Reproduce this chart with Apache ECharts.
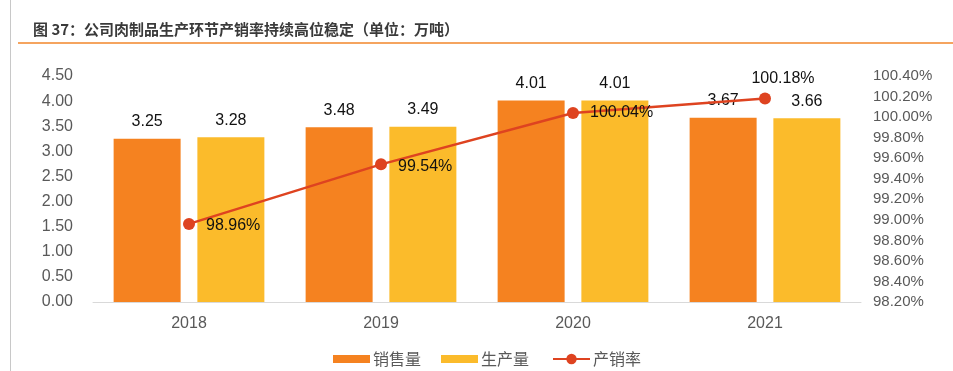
<!DOCTYPE html>
<html>
<head>
<meta charset="utf-8">
<script src="https://cdn.jsdelivr.net/npm/echarts@6/dist/echarts.min.js"></script>
<style>html,body{margin:0;padding:0;background:#fff;}#c{width:953px;height:371px;}</style>
</head>
<body>
<div id="c"></div>
<script>
var categories = ['2018', '2019', '2020', '2021'];
var salesVolume = [3.25, 3.48, 4.01, 3.67];
var productionVolume = [3.28, 3.49, 4.01, 3.66];
var salesRate = [98.96, 99.54, 100.04, 100.18];
var leftTicks = {min: 0, max: 4.5, interval: 0.5};
var rightTicks = {min: 98.2, max: 100.4, interval: 0.2};
var titleText = '图 37：公司肉制品生产环节产销率持续高位稳定（单位：万吨）';
var seriesNames = ['销售量', '生产量', '产销率'];

var chart = echarts.init(document.getElementById('c'), null, {renderer: 'canvas'});
var font = 'Liberation Sans, Arial, "Noto Sans CJK SC", sans-serif';
var cjk = '"Noto Sans CJK SC", sans-serif';
var rateLabels = [
  {position: 'right', distance: 11, offset: [0, 2]},
  {position: 'right', distance: 11, offset: [0, 2]},
  {position: 'right', distance: 11, offset: [0, 0]},
  {position: 'top', distance: 6, offset: [18, 0]}
];
var legendText = {fontSize: 16, color: '#595959', fontFamily: cjk, padding: [0, 0, 0, -2]};
chart.setOption({
  animation: false,
  textStyle: {fontFamily: font},
  title: {
    text: titleText,
    left: 28, top: 17,
    textStyle: {fontSize: 15, fontWeight: 'bold', color: '#3a3a3a', fontFamily: cjk}
  },
  graphic: [
    {type: 'line', shape: {x1: 10.5, y1: 0, x2: 10.5, y2: 371}, style: {stroke: '#c8c8c8', lineWidth: 1}},
    {type: 'line', shape: {x1: 18, y1: 43, x2: 953, y2: 43}, style: {stroke: '#F2862A', lineWidth: 1.5}}
  ],
  grid: {left: 93, right: 92, top: 76, bottom: 69, containLabel: false},
  legend: [
    {
      top: 351, left: 333, padding: 0,
      itemWidth: 37, itemHeight: 8, itemGap: 20,
      textStyle: legendText,
      data: [
        {name: seriesNames[0], icon: 'rect'},
        {name: seriesNames[1], icon: 'rect'}
      ]
    },
    {
      top: 351, left: 552, padding: 0,
      itemWidth: 37, itemHeight: 13,
      textStyle: legendText,
      data: [{name: seriesNames[2]}]
    }
  ],
  xAxis: {
    type: 'category', data: categories,
    axisLine: {lineStyle: {color: '#D9D9D9', width: 1}},
    axisTick: {show: false},
    axisLabel: {fontSize: 16, color: '#595959', margin: 14}
  },
  yAxis: [
    {
      type: 'value', min: leftTicks.min, max: leftTicks.max, interval: leftTicks.interval,
      splitLine: {show: false}, axisLine: {show: false}, axisTick: {show: false},
      axisLabel: {fontSize: 16, color: '#595959', margin: 20, formatter: function (v) { return v.toFixed(2); }}
    },
    {
      type: 'value', min: rightTicks.min, max: rightTicks.max, interval: rightTicks.interval,
      splitLine: {show: false}, axisLine: {show: false}, axisTick: {show: false},
      axisLabel: {fontSize: 15, color: '#595959', margin: 12, formatter: function (v) { return v.toFixed(2) + '%'; }}
    }
  ],
  series: [
    {
      name: seriesNames[0], type: 'bar', data: salesVolume, barWidth: 67, barGap: '25%',
      itemStyle: {color: '#F58220'},
      label: {show: true, position: 'top', distance: 9, fontSize: 16, color: '#111', formatter: function (p) { return p.value.toFixed(2); }}
    },
    {
      name: seriesNames[1], type: 'bar', data: productionVolume, barWidth: 67,
      itemStyle: {color: '#FBBB2B'},
      label: {show: true, position: 'top', distance: 9, fontSize: 16, color: '#111', formatter: function (p) { return p.value.toFixed(2); }}
    },
    {
      name: seriesNames[2], type: 'line', yAxisIndex: 1, z: 5,
      data: salesRate.map(function (v, i) { return {value: v, label: rateLabels[i]}; }),
      symbol: 'circle', symbolSize: 12,
      lineStyle: {color: '#DE4320', width: 2.5},
      itemStyle: {color: '#DE4320'},
      label: {show: true, fontSize: 16, color: '#111', formatter: function (p) { return p.value.toFixed(2) + '%'; }}
    }
  ]
});
</script>
</body>
</html>
